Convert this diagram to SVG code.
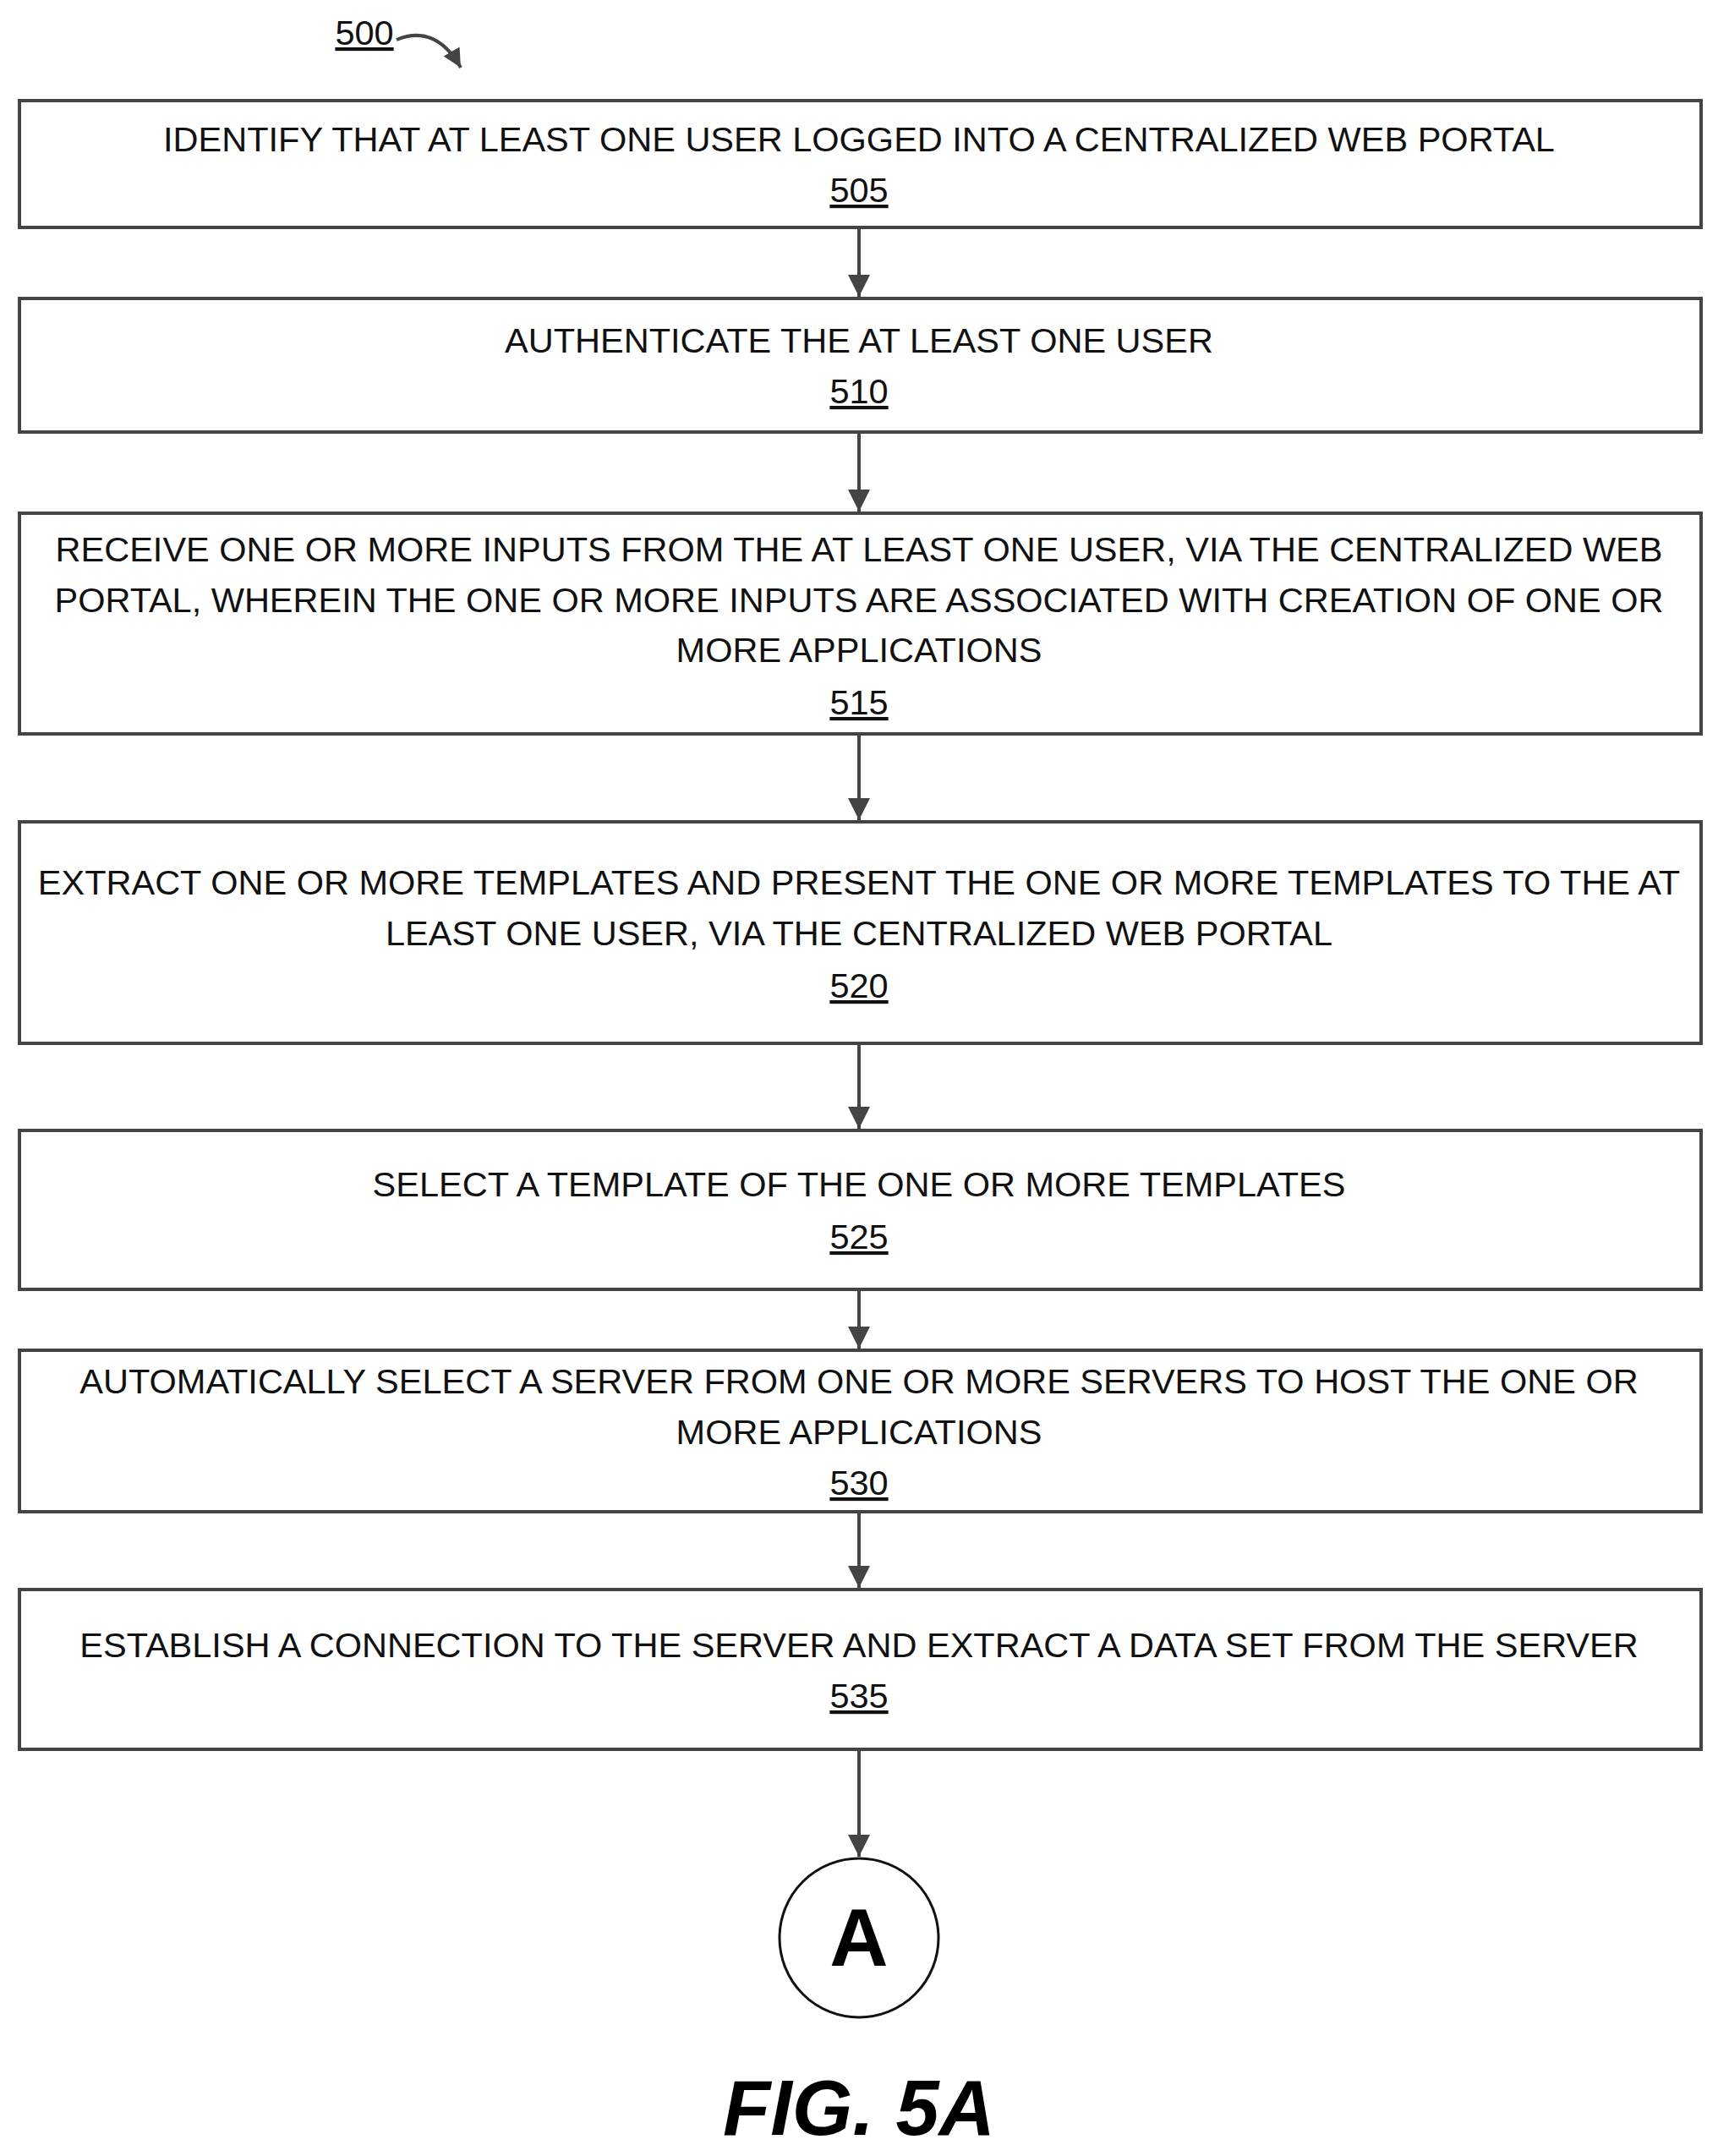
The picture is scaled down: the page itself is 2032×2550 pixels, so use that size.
<svg xmlns="http://www.w3.org/2000/svg" width="2032" height="2550" viewBox="0 0 2032 2550">
<defs>
<style>
.b{fill:#fff;stroke:#444;stroke-width:4}
.t{font-family:"Liberation Sans",Arial,sans-serif;font-size:41.5px;fill:#111;text-anchor:middle}
.n{text-decoration:underline}
.c{stroke:#444;stroke-width:4;fill:none}
</style>
<marker id="ah" viewBox="0 0 10 10" refX="10" refY="5" markerWidth="26" markerHeight="26" markerUnits="userSpaceOnUse" orient="auto"><path d="M0,0L10,5L0,10z" fill="#444"/></marker>
<marker id="a" viewBox="0 0 10 10" refX="10" refY="5" markerWidth="22" markerHeight="22" markerUnits="userSpaceOnUse" orient="auto"><path d="M0,0L10,5L0,10z" fill="#444"/></marker>
</defs>
<rect width="2032" height="2550" fill="#fff"/>
<g id="label500"><text class="t n" x="431" y="53">500</text><path class="c" d="M469,47 Q515,28 545,80" marker-end="url(#a)"/></g>
<g id="n505"><rect class="b" x="23" y="119" width="1989" height="150"/><text class="t" x="1016" y="179">IDENTIFY THAT AT LEAST ONE USER LOGGED INTO A CENTRALIZED WEB PORTAL</text><text class="t n" x="1016" y="239">505</text></g>
<g id="n510"><rect class="b" x="23" y="353" width="1989" height="158"/><text class="t" x="1016" y="417">AUTHENTICATE THE AT LEAST ONE USER</text><text class="t n" x="1016" y="477">510</text></g>
<g id="n515"><rect class="b" x="23" y="607" width="1989" height="261"/><text class="t" x="1016" y="664">RECEIVE ONE OR MORE INPUTS FROM THE AT LEAST ONE USER, VIA THE CENTRALIZED WEB</text><text class="t" x="1016" y="724">PORTAL, WHEREIN THE ONE OR MORE INPUTS ARE ASSOCIATED WITH CREATION OF ONE OR</text><text class="t" x="1016" y="783">MORE APPLICATIONS</text><text class="t n" x="1016" y="845">515</text></g>
<g id="n520"><rect class="b" x="23" y="972" width="1989" height="262"/><text class="t" x="1016" y="1058">EXTRACT ONE OR MORE TEMPLATES AND PRESENT THE ONE OR MORE TEMPLATES TO THE AT</text><text class="t" x="1016" y="1118">LEAST ONE USER, VIA THE CENTRALIZED WEB PORTAL</text><text class="t n" x="1016" y="1180">520</text></g>
<g id="n525"><rect class="b" x="23" y="1337" width="1989" height="188"/><text class="t" x="1016" y="1415">SELECT A TEMPLATE OF THE ONE OR MORE TEMPLATES</text><text class="t n" x="1016" y="1477">525</text></g>
<g id="n530"><rect class="b" x="23" y="1597" width="1989" height="191"/><text class="t" x="1016" y="1648">AUTOMATICALLY SELECT A SERVER FROM ONE OR MORE SERVERS TO HOST THE ONE OR</text><text class="t" x="1016" y="1708">MORE APPLICATIONS</text><text class="t n" x="1016" y="1768">530</text></g>
<g id="n535"><rect class="b" x="23" y="1880" width="1989" height="189"/><text class="t" x="1016" y="1960">ESTABLISH A CONNECTION TO THE SERVER AND EXTRACT A DATA SET FROM THE SERVER</text><text class="t n" x="1016" y="2020">535</text></g>
<g id="nA"><circle cx="1016" cy="2292" r="94" fill="#fff" stroke="#111" stroke-width="3"/><text x="1016" y="2325" style="font-family:'Liberation Sans',Arial,sans-serif;font-size:96px;font-weight:bold;text-anchor:middle">A</text></g>
<g id="connectors">
<line class="c" x1="1016" y1="269" x2="1016" y2="351" marker-end="url(#ah)"/>
<line class="c" x1="1016" y1="511" x2="1016" y2="605" marker-end="url(#ah)"/>
<line class="c" x1="1016" y1="868" x2="1016" y2="970" marker-end="url(#ah)"/>
<line class="c" x1="1016" y1="1234" x2="1016" y2="1335" marker-end="url(#ah)"/>
<line class="c" x1="1016" y1="1525" x2="1016" y2="1595" marker-end="url(#ah)"/>
<line class="c" x1="1016" y1="1788" x2="1016" y2="1878" marker-end="url(#ah)"/>
<line class="c" x1="1016" y1="2069" x2="1016" y2="2196" marker-end="url(#ah)"/>
</g>
<text x="1016" y="2525" style="font-family:'Liberation Sans',Arial,sans-serif;font-size:92px;font-weight:bold;font-style:italic;text-anchor:middle">FIG. 5A</text>
</svg>
